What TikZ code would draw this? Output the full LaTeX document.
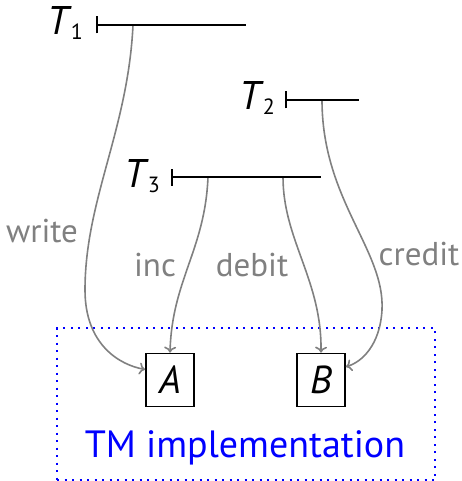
\documentclass[tikz,border=0pt]{standalone}
\usepackage{fontspec}
\setmainfont{PT Sans}
\usetikzlibrary{arrows.meta,positioning}

% transaction name with its index
\newcommand{\trname}[1]{\textit{T}\kern-1pt\raisebox{-5pt}{\fontsize{22}{22}\selectfont #1}}

\begin{document}
\begin{tikzpicture}[x=1pt,y=-1pt]
	\tikzstyle{Trans}	= [anchor=base west, inner sep=0pt, font=\fontsize{40}{40}\selectfont]
	\tikzstyle{Life}	= [{Bar[width=17pt]}-, line width=1.8pt, black]
	\tikzstyle{Op}		= [-{To[length=6pt,width=12pt]}, gray, line width=1.6pt]
	\tikzstyle{OpLabel}	= [anchor=base, inner sep=0pt, gray, font=\fontsize{33}{33}\selectfont]
	\tikzstyle{Obj}		= [draw, line width=1.7pt, minimum width=48pt, minimum height=53pt, inner sep=0pt, font=\fontsize{39}{39}\selectfont\itshape]
	\tikzstyle{Impl}	= [draw=blue, dash pattern=on 2pt off 5.5pt, line width=1.7pt, minimum width=378pt, minimum height=152pt]

	\useasboundingbox (0,0) rectangle (462,481);

	% the implementation and its objects
	\node (impl) at (246,404) [Impl] {};
	\node (A) at (170,380) [Obj] {A};
	\node (B) at (321,380) [Obj] {B};
	\node (tm) at (245,457) [anchor=base, inner sep=0pt, blue, font=\fontsize{38}{38}\selectfont] {TM implementation};

	% transactions
	\node (t1) at (47,35) [Trans] {\trname{1}};
	\node (t2) at (239,110) [Trans] {\trname{2}};
	\node (t3) at (124,187) [Trans] {\trname{3}};

	\coordinate (t1s) at (96,25);
	\coordinate (t1e) at (246,25);
	\coordinate (t2s) at (285,100);
	\coordinate (t2e) at (359,100);
	\coordinate (t3s) at (171,177);
	\coordinate (t3e) at (321,177);

	% points where the operations leave
	\coordinate (wr) at (133,25);
	\coordinate (cr) at (322,100);
	\coordinate (in) at (208,177);
	\coordinate (db) at (283,177);

	% operations
	\draw [Op] (wr) .. controls (128,130) and (85,200) .. (85,290)
		.. controls (85,345) and (120,365) .. (A.157);
	\draw [Op] (in) .. controls (205,250) and (172,280) .. (A.north);
	\draw [Op] (db) .. controls (283,240) and (322,280) .. (B.north);
	\draw [Op] (cr) .. controls (322,200) and (385,250) .. (382,310)
		.. controls (380,345) and (362,362) .. (B.28);

	\draw [Life] (t1s) -- (t1e);
	\draw [Life] (t2s) -- (t2e);
	\draw [Life] (t3s) -- (t3e);

	\node (lwr) at (42,242) [OpLabel] {write};
	\node (lin) at (155,276) [OpLabel] {inc};
	\node (ldb) at (252,276) [OpLabel] {debit};
	\node (lcr) at (419,265) [OpLabel] {credit};
\end{tikzpicture}
\end{document}
